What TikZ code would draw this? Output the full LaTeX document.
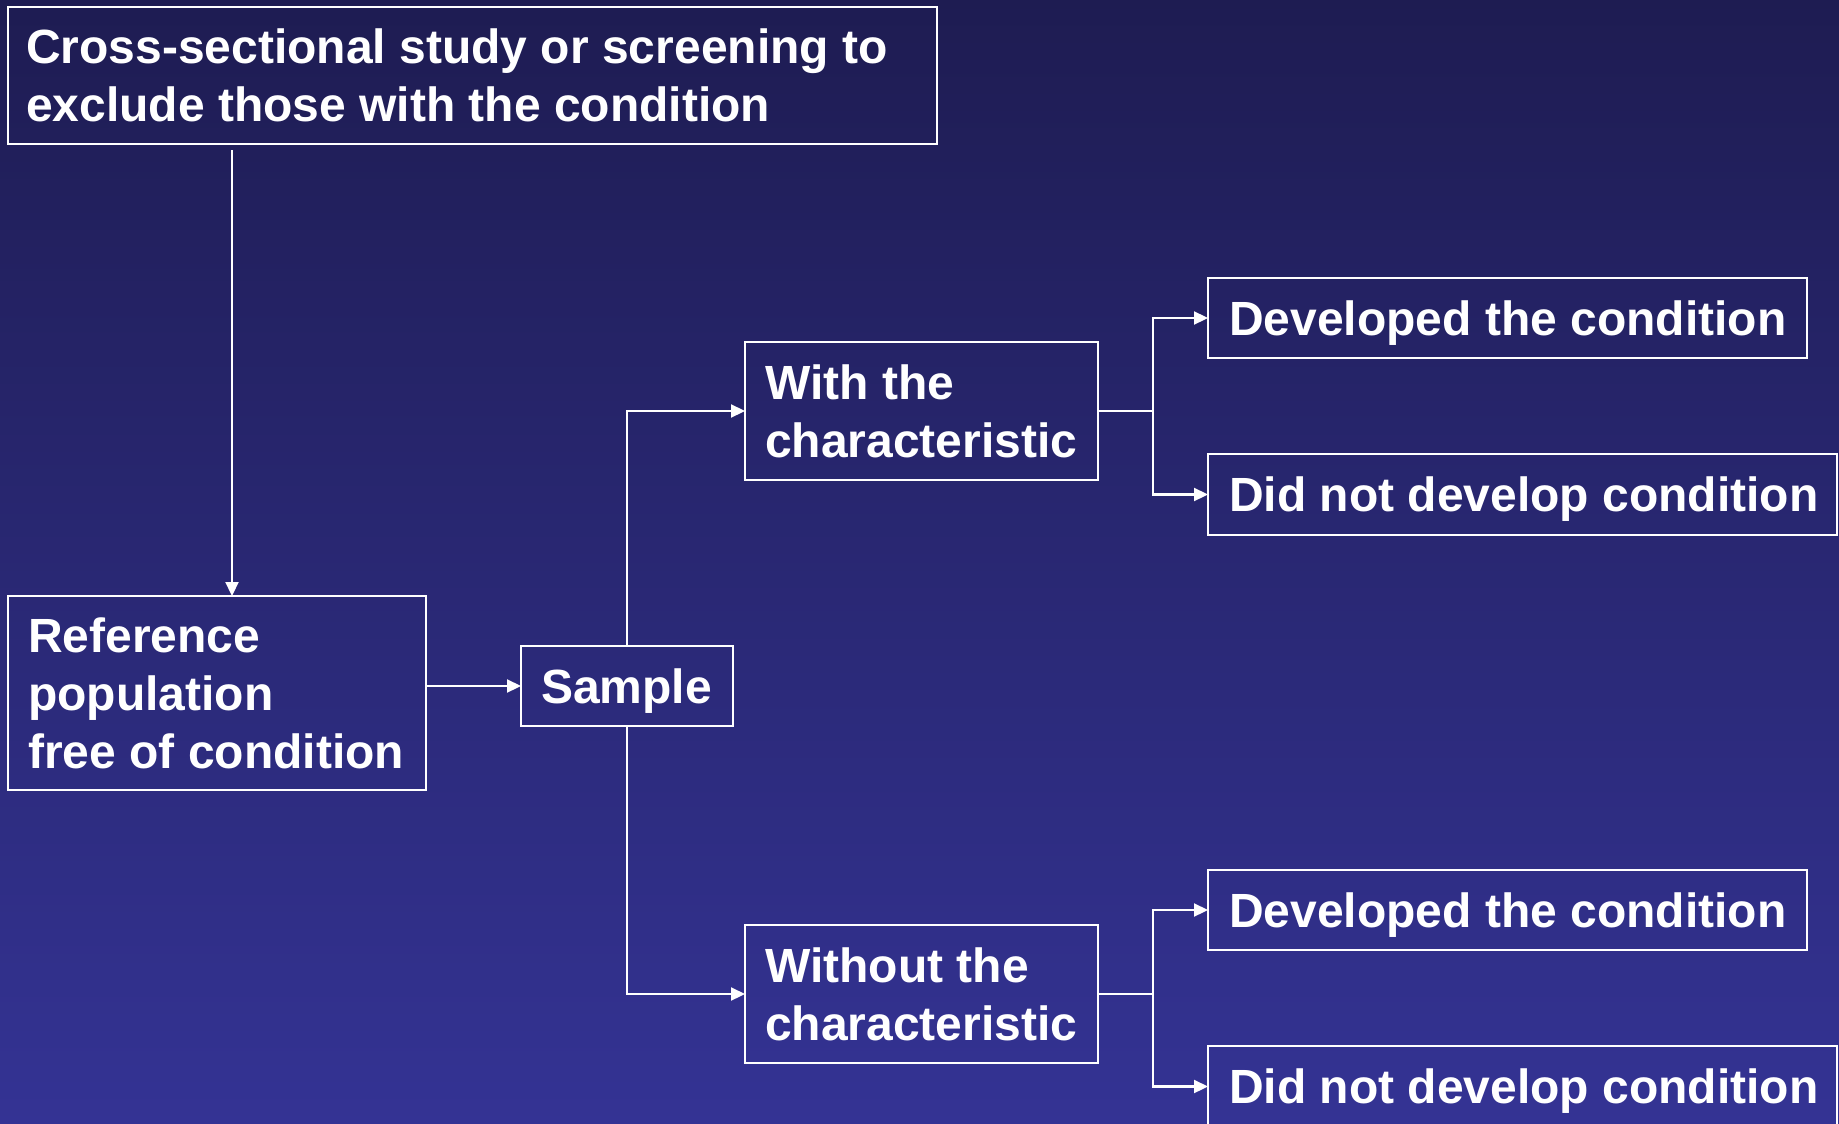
\documentclass[tikz,border=0pt]{standalone}
\usepackage{fontspec}
\setmainfont{Liberation Sans}
\usetikzlibrary{arrows.meta,calc}
\definecolor{bgtop}{RGB}{30,28,82}
\definecolor{bgbot}{RGB}{52,51,148}
\begin{document}
\begin{tikzpicture}[x=1pt,y=-1pt,
  boxnode/.style={draw=white,line width=2.5pt,rectangle,anchor=north west,inner sep=0pt,outer sep=0pt},
  lbl/.style={anchor=west,inner sep=0pt,align=left,text=white,font=\fontsize{48}{58}\selectfont\bfseries},
  conn/.style={draw=white,line width=2.2pt,-{Triangle[length=14pt,width=13pt]}},
  plain/.style={draw=white,line width=2.2pt}]
\useasboundingbox (0,0) rectangle (1839,1124);
\clip (0,0) rectangle (1839,1124);
\shade[top color=bgtop,bottom color=bgbot] (0,0) rectangle (1839,1124);

\node[boxnode,minimum width=929pt,minimum height=137pt] (top) at (8,7) {};
\node[lbl] (topt) at ([xshift=18pt]top.west) {Cross-sectional study or screening to\\exclude those with the condition};

\node[boxnode,minimum width=418pt,minimum height=194pt] (ref) at (8,596) {};
\node[lbl] (reft) at ([xshift=20pt]ref.west) {Reference\\population\\free of condition};

\node[boxnode,minimum width=212pt,minimum height=80pt] (sample) at (521,646) {};
\node[lbl] (samplet) at ([xshift=20pt,yshift=-5pt]sample.west) {Sample};

\node[boxnode,minimum width=353pt,minimum height=138pt] (with) at (745,342) {};
\node[lbl] (witht) at ([xshift=20pt]with.west) {With the\\characteristic};

\node[boxnode,minimum width=353pt,minimum height=138pt] (without) at (745,925) {};
\node[lbl] (withoutt) at ([xshift=20pt]without.west) {Without the\\characteristic};

\node[boxnode,minimum width=599pt,minimum height=80pt] (dev1) at (1208,278) {};
\node[lbl] (dev1t) at ([xshift=21pt,yshift=-5pt]dev1.west) {Developed the condition};
\node[boxnode,minimum width=629pt,minimum height=81pt] (did1) at (1208,454) {};
\node[lbl] (did1t) at ([xshift=21pt,yshift=-5pt]did1.west) {Did not develop condition};

\node[boxnode,minimum width=599pt,minimum height=80pt] (dev2) at (1208,870) {};
\node[lbl] (dev2t) at ([xshift=21pt,yshift=-5pt]dev2.west) {Developed the condition};
\node[boxnode,minimum width=629pt,minimum height=81pt] (did2) at (1208,1046) {};
\node[lbl] (did2t) at ([xshift=21pt,yshift=-5pt]did2.west) {Did not develop condition};

\coordinate (c0) at (232,150);
\draw[conn] (c0) -- (c0 |- ref.north);
\draw[conn] (ref.east |- sample.west) -- (sample.west);
\draw[conn] (sample.north) |- (with.west);
\draw[conn] (sample.south) |- (without.west);

\draw[plain] (with.east) -- ++(55,0) coordinate (f1);
\draw[conn] (f1) |- (dev1.west);
\draw[conn] (f1) |- (did1.west);

\draw[plain] (without.east) -- ++(55,0) coordinate (f2);
\draw[conn] (f2) |- (dev2.west);
\draw[conn] (f2) |- (did2.west);
\end{tikzpicture}
\end{document}
